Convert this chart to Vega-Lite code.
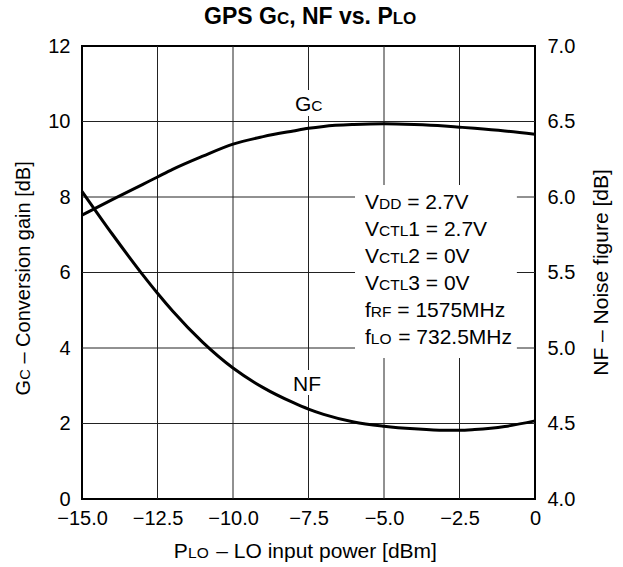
{
  "$schema": "https://vega.github.io/schema/vega-lite/v6.json",
  "width": 453,
  "height": 453,
  "autosize": {"type": "none"},
  "padding": {"left": 82, "top": 46, "right": 88, "bottom": 68},
  "background": "white",
  "config": {
    "font": "Liberation Sans",
    "view": {"stroke": "black", "strokeWidth": 2},
    "axis": {
      "domain": false,
      "ticks": false,
      "grid": false,
      "labelFont": "Liberation Sans",
      "labelFontSize": 20,
      "labelColor": "black",
      "labelOverlap": false,
      "labelFlush": false
    }
  },
  "datasets": {
    "gc": [
      {"x": -15, "y": 7.52}, {"x": -14, "y": 7.93}, {"x": -13, "y": 8.33}, {"x": -12.5, "y": 8.53},
      {"x": -12, "y": 8.73}, {"x": -11, "y": 9.08}, {"x": -10, "y": 9.4}, {"x": -9, "y": 9.6},
      {"x": -8, "y": 9.75}, {"x": -7.5, "y": 9.82}, {"x": -7, "y": 9.87}, {"x": -6, "y": 9.92},
      {"x": -5, "y": 9.94}, {"x": -4, "y": 9.92}, {"x": -3, "y": 9.88}, {"x": -2.5, "y": 9.85},
      {"x": -2, "y": 9.82}, {"x": -1, "y": 9.75}, {"x": 0, "y": 9.66}
    ],
    "nf": [
      {"x": -15, "y": 6.0375}, {"x": -14, "y": 5.755}, {"x": -13, "y": 5.4875}, {"x": -12.5, "y": 5.3625},
      {"x": -12, "y": 5.245}, {"x": -11, "y": 5.0375}, {"x": -10, "y": 4.8675}, {"x": -9, "y": 4.7375},
      {"x": -8, "y": 4.6375}, {"x": -7.5, "y": 4.595}, {"x": -7, "y": 4.56}, {"x": -6, "y": 4.51},
      {"x": -5, "y": 4.4825}, {"x": -4, "y": 4.465}, {"x": -3, "y": 4.455}, {"x": -2.5, "y": 4.455},
      {"x": -2, "y": 4.46}, {"x": -1, "y": 4.48}, {"x": 0, "y": 4.5175}
    ],
    "gridx": [{"x": -12.5}, {"x": -10}, {"x": -7.5}, {"x": -5}, {"x": -2.5}],
    "gridy": [{"y": 2}, {"y": 4}, {"y": 6}, {"y": 8}, {"y": 10}],
    "boxes": [
      {"x": -5.96, "x2": -0.6, "y": 3.735, "y2": 8.318},
      {"x": -8.013, "x2": -6.987, "y": 10.146, "y2": 10.834},
      {"x": -8.079, "x2": -7.02, "y": 2.755, "y2": 3.417}
    ],
    "big": [
      {"x": -5.629, "y": 7.669, "text": "V"}, {"x": -4.232, "y": 7.669, "text": "= 2.7V"},
      {"x": -5.629, "y": 6.959, "text": "V"}, {"x": -4.195, "y": 6.959, "text": "1 = 2.7V"},
      {"x": -5.629, "y": 6.249, "text": "V"}, {"x": -4.195, "y": 6.249, "text": "2 = 0V"},
      {"x": -5.629, "y": 5.539, "text": "V"}, {"x": -4.195, "y": 5.539, "text": "3 = 0V"},
      {"x": -5.629, "y": 4.829, "text": "f"}, {"x": -4.56, "y": 4.829, "text": "= 1575MHz"},
      {"x": -5.629, "y": 4.119, "text": "f"}, {"x": -4.53, "y": 4.119, "text": "= 732.5MHz"},
      {"x": -7.947, "y": 10.265, "text": "G"},
      {"x": -8.013, "y": 2.874, "text": "NF"},
      {"x": -11.96, "y": -1.555, "text": "P"}, {"x": -10.553, "y": -1.555, "text": "– LO input power [dBm]"}
    ],
    "small": [
      {"x": -5.166, "y": 7.669, "text": "DD"},
      {"x": -5.166, "y": 6.959, "text": "CTL"},
      {"x": -5.166, "y": 6.249, "text": "CTL"},
      {"x": -5.166, "y": 5.539, "text": "CTL"},
      {"x": -5.437, "y": 4.829, "text": "RF"},
      {"x": -5.437, "y": 4.119, "text": "LO"},
      {"x": -7.407, "y": 10.265, "text": "C"},
      {"x": -11.487, "y": -1.555, "text": "LO"}
    ],
    "rotleft": [
      {"x": -16.738, "y": 2.744, "text": "G"},
      {"x": -16.738, "y": 3.587, "text": "– Conversion gain [dB]"}
    ],
    "rotleftsmall": [
      {"x": -16.738, "y": 3.157, "text": "C"}
    ],
    "rotright": [
      {"x": 2.401, "y": 3.264, "text": "NF – Noise figure [dB]"}
    ],
    "titlebig": [
      {"x": -10.96, "y": 12.577, "text": "GPS G"},
      {"x": -8.139, "y": 12.577, "text": ", NF vs. P"}
    ],
    "titlesmall": [
      {"x": -8.546, "y": 12.577, "text": "C"},
      {"x": -4.712, "y": 12.577, "text": "LO"}
    ]
  },
  "layer": [
    {
      "data": {"name": "gridx"},
      "mark": {"type": "rule", "color": "#222222", "strokeWidth": 1},
      "encoding": {
        "x": {"field": "x", "type": "quantitative", "scale": {"domain": [-15, 0], "nice": false, "zero": false},
          "axis": {"orient": "bottom", "values": [-15, -12.5, -10, -7.5, -5, -2.5, 0], "labelExpr": "datum.value === 0 ? '0' : format(datum.value, '.1f')", "labelPadding": 9, "title": null}}
      }
    },
    {
      "data": {"name": "gridy"},
      "mark": {"type": "rule", "color": "#222222", "strokeWidth": 1},
      "encoding": {
        "y": {"field": "y", "type": "quantitative", "scale": {"domain": [0, 12], "nice": false, "zero": false}, "axis": null}
      }
    },
    {
      "data": {"name": "gc"},
      "mark": {"type": "line", "color": "black", "strokeWidth": 3, "interpolate": "monotone"},
      "encoding": {
        "x": {"field": "x", "type": "quantitative", "scale": {"domain": [-15, 0], "nice": false, "zero": false},
          "axis": {"orient": "bottom", "values": [-15, -12.5, -10, -7.5, -5, -2.5, 0], "labelExpr": "datum.value === 0 ? '0' : format(datum.value, '.1f')", "labelPadding": 9, "title": null}},
        "y": {
          "field": "y",
          "type": "quantitative",
          "scale": {"domain": [0, 12], "nice": false, "zero": false},
          "axis": {"orient": "left", "values": [0, 2, 4, 6, 8, 10, 12], "format": "d", "labelPadding": 12, "title": null}
        }
      }
    },
    {
      "data": {"name": "nf"},
      "mark": {"type": "line", "color": "black", "strokeWidth": 3, "interpolate": "monotone"},
      "encoding": {
        "x": {"field": "x", "type": "quantitative", "scale": {"domain": [-15, 0], "nice": false, "zero": false},
          "axis": {"orient": "bottom", "values": [-15, -12.5, -10, -7.5, -5, -2.5, 0], "labelExpr": "datum.value === 0 ? '0' : format(datum.value, '.1f')", "labelPadding": 9, "title": null}},
        "y": {
          "field": "y",
          "type": "quantitative",
          "scale": {"domain": [4, 7], "nice": false, "zero": false},
          "axis": {"orient": "right", "values": [4, 4.5, 5, 5.5, 6, 6.5, 7], "format": ".1f", "labelPadding": 12, "title": null}
        }
      }
    },
    {
      "data": {"name": "boxes"},
      "mark": {"type": "rect", "fill": "white", "strokeWidth": 0},
      "encoding": {
        "x": {"field": "x", "type": "quantitative", "scale": {"domain": [-15, 0], "nice": false, "zero": false},
          "axis": {"orient": "bottom", "values": [-15, -12.5, -10, -7.5, -5, -2.5, 0], "labelExpr": "datum.value === 0 ? '0' : format(datum.value, '.1f')", "labelPadding": 9, "title": null}},
        "x2": {"field": "x2"},
        "y": {"field": "y", "type": "quantitative", "scale": {"domain": [0, 12], "nice": false, "zero": false}, "axis": null},
        "y2": {"field": "y2"}
      }
    },
    {
      "data": {"name": "big"},
      "mark": {"type": "text", "align": "left", "baseline": "alphabetic", "fontSize": 21, "font": "Liberation Sans", "color": "black"},
      "encoding": {
        "x": {"field": "x", "type": "quantitative", "scale": {"domain": [-15, 0], "nice": false, "zero": false},
          "axis": {"orient": "bottom", "values": [-15, -12.5, -10, -7.5, -5, -2.5, 0], "labelExpr": "datum.value === 0 ? '0' : format(datum.value, '.1f')", "labelPadding": 9, "title": null}},
        "y": {"field": "y", "type": "quantitative", "scale": {"domain": [0, 12], "nice": false, "zero": false}, "axis": null},
        "text": {"field": "text"}
      }
    },
    {
      "data": {"name": "small"},
      "mark": {"type": "text", "align": "left", "baseline": "alphabetic", "fontSize": 15.5, "font": "Liberation Sans", "color": "black"},
      "encoding": {
        "x": {"field": "x", "type": "quantitative", "scale": {"domain": [-15, 0], "nice": false, "zero": false},
          "axis": {"orient": "bottom", "values": [-15, -12.5, -10, -7.5, -5, -2.5, 0], "labelExpr": "datum.value === 0 ? '0' : format(datum.value, '.1f')", "labelPadding": 9, "title": null}},
        "y": {"field": "y", "type": "quantitative", "scale": {"domain": [0, 12], "nice": false, "zero": false}, "axis": null},
        "text": {"field": "text"}
      }
    },
    {
      "data": {"name": "rotleft"},
      "mark": {"type": "text", "align": "left", "baseline": "alphabetic", "angle": 270, "fontSize": 20, "font": "Liberation Sans", "color": "black"},
      "encoding": {
        "x": {"field": "x", "type": "quantitative", "scale": {"domain": [-15, 0], "nice": false, "zero": false},
          "axis": {"orient": "bottom", "values": [-15, -12.5, -10, -7.5, -5, -2.5, 0], "labelExpr": "datum.value === 0 ? '0' : format(datum.value, '.1f')", "labelPadding": 9, "title": null}},
        "y": {"field": "y", "type": "quantitative", "scale": {"domain": [0, 12], "nice": false, "zero": false}, "axis": null},
        "text": {"field": "text"}
      }
    },
    {
      "data": {"name": "rotleftsmall"},
      "mark": {"type": "text", "align": "left", "baseline": "alphabetic", "angle": 270, "fontSize": 14.8, "font": "Liberation Sans", "color": "black"},
      "encoding": {
        "x": {"field": "x", "type": "quantitative", "scale": {"domain": [-15, 0], "nice": false, "zero": false},
          "axis": {"orient": "bottom", "values": [-15, -12.5, -10, -7.5, -5, -2.5, 0], "labelExpr": "datum.value === 0 ? '0' : format(datum.value, '.1f')", "labelPadding": 9, "title": null}},
        "y": {"field": "y", "type": "quantitative", "scale": {"domain": [0, 12], "nice": false, "zero": false}, "axis": null},
        "text": {"field": "text"}
      }
    },
    {
      "data": {"name": "rotright"},
      "mark": {"type": "text", "align": "left", "baseline": "alphabetic", "angle": 270, "fontSize": 21, "font": "Liberation Sans", "color": "black"},
      "encoding": {
        "x": {"field": "x", "type": "quantitative", "scale": {"domain": [-15, 0], "nice": false, "zero": false},
          "axis": {"orient": "bottom", "values": [-15, -12.5, -10, -7.5, -5, -2.5, 0], "labelExpr": "datum.value === 0 ? '0' : format(datum.value, '.1f')", "labelPadding": 9, "title": null}},
        "y": {"field": "y", "type": "quantitative", "scale": {"domain": [0, 12], "nice": false, "zero": false}, "axis": null},
        "text": {"field": "text"}
      }
    },
    {
      "data": {"name": "titlebig"},
      "mark": {"type": "text", "align": "left", "baseline": "alphabetic", "fontSize": 23, "fontWeight": "bold", "font": "Liberation Sans", "color": "black"},
      "encoding": {
        "x": {"field": "x", "type": "quantitative", "scale": {"domain": [-15, 0], "nice": false, "zero": false},
          "axis": {"orient": "bottom", "values": [-15, -12.5, -10, -7.5, -5, -2.5, 0], "labelExpr": "datum.value === 0 ? '0' : format(datum.value, '.1f')", "labelPadding": 9, "title": null}},
        "y": {"field": "y", "type": "quantitative", "scale": {"domain": [0, 12], "nice": false, "zero": false}, "axis": null},
        "text": {"field": "text"}
      }
    },
    {
      "data": {"name": "titlesmall"},
      "mark": {"type": "text", "align": "left", "baseline": "alphabetic", "fontSize": 17, "fontWeight": "bold", "font": "Liberation Sans", "color": "black"},
      "encoding": {
        "x": {"field": "x", "type": "quantitative", "scale": {"domain": [-15, 0], "nice": false, "zero": false},
          "axis": {"orient": "bottom", "values": [-15, -12.5, -10, -7.5, -5, -2.5, 0], "labelExpr": "datum.value === 0 ? '0' : format(datum.value, '.1f')", "labelPadding": 9, "title": null}},
        "y": {"field": "y", "type": "quantitative", "scale": {"domain": [0, 12], "nice": false, "zero": false}, "axis": null},
        "text": {"field": "text"}
      }
    }
  ],
  "resolve": {"scale": {"y": "independent"}, "axis": {"y": "independent"}}
}
